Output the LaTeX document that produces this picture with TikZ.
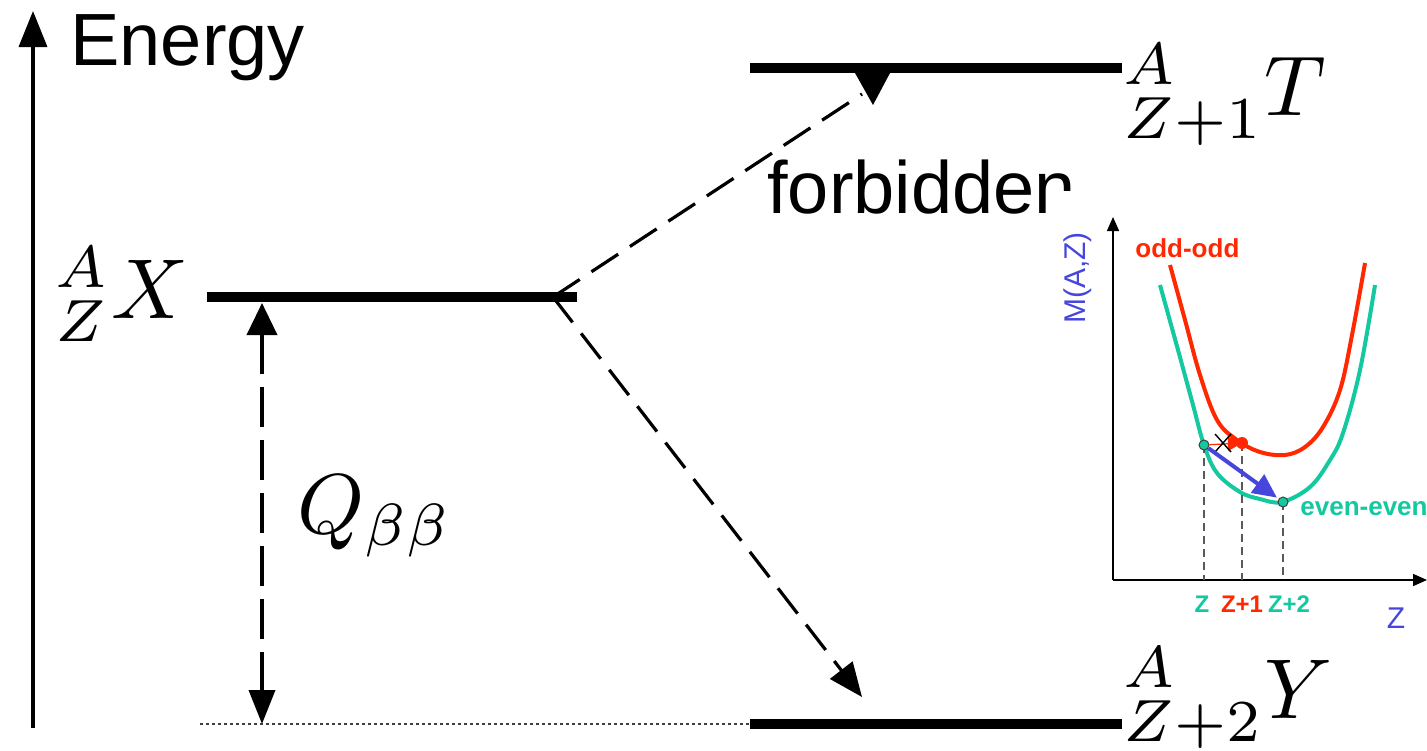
\documentclass[tikz,border=0pt]{standalone}
\usepackage{fontspec}
\setsansfont{Liberation Sans}
\usetikzlibrary{arrows.meta}
\definecolor{ogreen}{RGB}{20,200,160}
\definecolor{ored}{RGB}{255,40,0}
\definecolor{oblue}{RGB}{70,70,220}
\tikzset{
  levelline/.style={line width=5pt},
  mathlbl/.style={inner sep=0pt, font=\fontsize{10}{12}\selectfont, scale=4.25},
  bigsans/.style={inner sep=0pt, font=\fontsize{37}{40}\selectfont\sffamily},
  decay/.style={line width=1.6pt, dash pattern=on 16pt off 7pt},
  qline/.style={line width=1.9pt, dash pattern=on 20pt off 6.5pt},
  curve/.style={line width=2pt, smooth, tension=0.6},
  guide/.style={line width=0.6pt, draw=black!65, dash pattern=on 4pt off 2.5pt},
  insetlbl/.style={inner sep=0pt, font=\fontsize{13}{15}\selectfont\sffamily\bfseries},
  zlbl/.style={inner sep=0pt, font=\fontsize{12}{14}\selectfont\sffamily\bfseries},
  gdot/.style={circle, fill=ogreen, draw=black!75, line width=0.5pt, inner sep=0pt, minimum size=5pt},
}
\begin{document}
\begin{tikzpicture}[x=0.5pt,y=-0.5pt]
\useasboundingbox (0,0) rectangle (1427,750);
\clip (0,0) rectangle (1427,750);

% Energy axis
\coordinate (ebot) at (33,728);
\coordinate (etop) at (33,11);
\draw[line width=1.8pt, -{Triangle[length=18pt,width=14pt]}] (ebot) -- (etop);
\node[bigsans, anchor=base west] (energy) at (70,65) {Energy};

% levels
\coordinate (Xl) at (207,297); \coordinate (Xr) at (577,297);
\coordinate (Tl) at (750,68);  \coordinate (Tr) at (1122,68);
\coordinate (Yl) at (750,724); \coordinate (Yr) at (1122,724);
\coordinate (dotl) at (200,724);
\draw[levelline] (Xl) -- (Xr);
\draw[levelline] (Tl) -- (Tr);
\draw[levelline] (Yl) -- (Yr);
\draw[line width=0.7pt, black!75, dash pattern=on 1.5pt off 1.5pt] (dotl) -- (Yl);

% labels of levels
\node[mathlbl, anchor=base east] (lX) at (190,318) {${}^{A}_{Z}X$};
\node[mathlbl, anchor=base west] (lT) at (1122,115) {${}^{A}_{Z+1}T$};
\node[mathlbl, anchor=base west] (lY) at (1122,718) {${}^{A}_{Z+2}Y$};

% Q arrow
\coordinate (qtop) at (262,303);
\coordinate (qbot) at (262,724);
\draw[qline, {Triangle[length=16pt,width=15pt]}-{Triangle[length=17pt,width=13pt]}] (qtop) -- (qbot);
\node[mathlbl, anchor=base west] (Q) at (296,533) {$Q_{\beta\beta}$};

% decay lines
\coordinate (F) at (553,297);
\coordinate (Tend) at (862,94);
\coordinate (Yend) at (862,697);
\draw[decay] (F) -- (Tend);
\fill (855,73) -- (890,73) -- (873,105) -- cycle;
\draw[decay, -{Triangle[length=17pt,width=14pt]}] (F) -- (Yend);

\node[bigsans, anchor=base west] (forb) at (767,213) {forbidden};

% inset
\fill[white] (1053,191) rectangle (1427,645);
\coordinate (O) at (1113,580);
\coordinate (ytip) at (1113,217);
\coordinate (xtip) at (1427,580);
\draw[line width=0.8pt, -{Triangle[length=7pt,width=6pt]}] (O) -- (ytip);
\draw[line width=0.8pt, -{Triangle[length=7pt,width=6pt]}] (O) -- (xtip);
\node[rotate=90, inner sep=0pt, text=oblue, font=\fontsize{15}{17}\selectfont\sffamily] (mlab) at (1078,278) {M(A,Z)};
\node[inner sep=0pt, text=oblue, font=\fontsize{15}{17}\selectfont\sffamily] (zax) at (1396,618) {Z};

\draw[curve, ored] plot coordinates {(1170,265) (1185,320) (1200,375) (1217,420) (1237,440) (1260,452) (1285,455) (1305,447) (1323,427) (1340,390) (1352,335) (1365,263)};
\draw[curve, ogreen] plot coordinates {(1160,285) (1178,350) (1193,405) (1204,445) (1217,473) (1240,492) (1260,499) (1282,502) (1310,487) (1330,460) (1343,433) (1360,370) (1375,285)};
\node[insetlbl, text=ored, anchor=base west] (oo) at (1135,257) {odd-odd};
\node[insetlbl, text=ogreen, anchor=base west] (ee) at (1300,515) {even-even};

\coordinate (zb) at (1204,580);
\coordinate (z1b) at (1242,580);
\coordinate (z2b) at (1283,580);
\coordinate (z1) at (1242,443);
\draw[guide] (1204,445) -- (zb);
\draw[guide] (z1) -- (z1b);
\draw[guide] (1283,502) -- (z2b);

\node[gdot] (dz) at (1204,445) {};
\node[gdot] (dz2) at (1283,502) {};
\fill[ored] (z1) circle (3pt);
\draw[ored, line width=0.6pt, -{Triangle[length=7pt,width=7pt]}] (dz) -- (z1);
\draw[line width=0.7pt] (1215,434) -- (1231,452) (1215,452) -- (1231,434);
\draw[oblue, line width=2pt, shorten >=1pt, -{Triangle[length=12pt,width=11pt]}] (dz) -- (dz2);

\node[zlbl, text=ogreen] (lz) at (1202,604) {Z};
\node[zlbl, text=ored] (lz1) at (1242,604) {Z+1};
\node[zlbl, text=ogreen] (lz2) at (1289,604) {Z+2};
\end{tikzpicture}
\end{document}
